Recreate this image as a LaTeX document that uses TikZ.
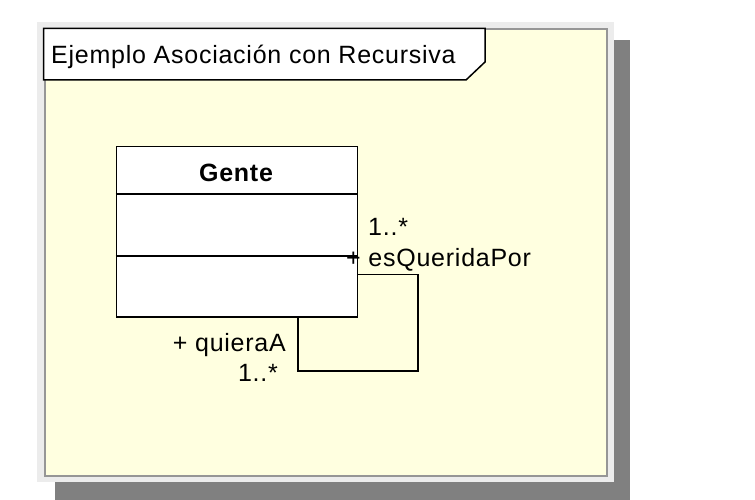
\documentclass[tikz,border=0pt]{standalone}
\usepackage{fontspec}
\setmainfont{Liberation Sans}[LetterSpace=3]
\begin{document}
\begin{tikzpicture}[x=1pt,y=-1pt,
  lbl/.style={anchor=base west,inner sep=0pt,font=\fontsize{25}{29}\selectfont},
  lineblk/.style={draw=black,line width=1.5pt}]
\useasboundingbox (0,0) rectangle (755,500);
% shadow and frames
\fill[fill={rgb,255:red,128;green,128;blue,128}] (55,40) rectangle (630,500);
\fill[fill={rgb,255:red,236;green,236;blue,236}] (37,22) rectangle (614,482);
\node[draw={rgb,255:red,150;green,150;blue,150},line width=2pt,fill={rgb,255:red,255;green,255;blue,224},
  minimum width=562pt,minimum height=446pt,inner sep=0pt,anchor=north west] (frame) at (43.5,28.5) {};
% tab
\draw[lineblk,fill=white] (frame.north west) -- (485,28.5) -- (485,62) -- (466,80) -- (43.5,80) -- cycle;
\node[lbl] (title) at (51,63.5) {Ejemplo Asociación con Recursiva};
% class
\node[lineblk,fill=white,minimum width=241pt,minimum height=170pt,inner sep=0pt,anchor=north west] (gente) at (115.5,146) {};
\draw[lineblk] (115.5,194) -- (356.5,194);
\draw[lineblk] (115.5,256) -- (356.5,256);
\node[lbl,font=\fontsize{25}{29}\selectfont\bfseries,anchor=base] (name) at (236,181.5) {Gente};
% self association
\coordinate (endA) at (gente.east |- 0,274.7);
\coordinate (endB) at (298,316);
\coordinate (c1) at (418,371);
\draw[lineblk] (endA) -| (c1) -| (endB);
% role labels
\node[lbl] (mult1) at (368,235) {1..*};
\node[lbl] (role1) at (346,266.5) {+ esQueridaPor};
\node[lbl,anchor=base east] (role2) at (286,351.5) {+ quieraA};
\node[lbl,anchor=base east] (mult2) at (278,381.5) {1..*};
\end{tikzpicture}
\end{document}
